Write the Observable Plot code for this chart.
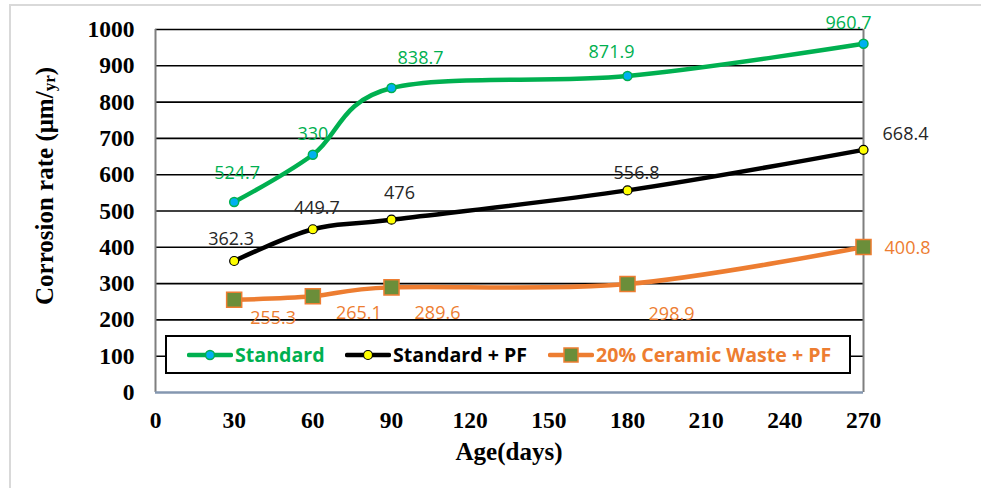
<!DOCTYPE html>
<html><head><meta charset="utf-8">
<script src="https://cdn.jsdelivr.net/npm/d3@7"></script>
<script src="https://cdn.jsdelivr.net/npm/@observablehq/plot@0.6"></script>
<style>
body{margin:0;background:#fff;overflow:hidden}
#wrap{position:relative;width:981px;height:488px;overflow:hidden;background:#fff}
#frame{position:absolute;left:9px;top:4px;width:1100px;height:1100px;border-top:2px solid #d9d9d9;border-left:2px solid #d9d9d9}
#chart{position:absolute;left:0;top:0}
#legend{position:absolute;left:165px;top:335px;width:682px;height:35px;border:2px solid #000;background:#fff;font-family:"Open Sans";font-weight:bold;font-size:19.6px}
.item{position:absolute;top:0;height:35px;display:flex;align-items:center;white-space:nowrap}
.item svg{margin-right:2px}
</style></head>
<body>
<div id="wrap"><div id="frame"></div><div id="chart"></div><div id="legend"></div></div>
<script>
const ages = [30, 60, 90, 180, 270];
const standard = [524.7, 655, 838.7, 871.9, 960.7];
const standardLabels = ["524.7", "330", "838.7", "871.9", "960.7"];
const standardPF = [362.3, 449.7, 476, 556.8, 668.4];
const standardPFLabels = ["362.3", "449.7", "476", "556.8", "668.4"];
const ceramicPF = [255.3, 265.1, 289.6, 298.9, 400.8];
const ceramicPFLabels = ["255.3", "265.1", "289.6", "298.9", "400.8"];
const seriesNames = ["Standard", "Standard + PF", "20% Ceramic Waste + PF"];
const xTicks = [0, 30, 60, 90, 120, 150, 180, 210, 240, 270];
const yTicks = [0, 100, 200, 300, 400, 500, 600, 700, 800, 900, 1000];
const xTitle = "Age(days)";
const yTitleMain = "Corrosion rate (μm/";
const yTitleSub = "yr";
const yTitleEnd = ")";

// layout: label offsets (px) per point
const standardOffsets = [[3,-29],[0,-21],[29,-30],[-16,-24],[-15,-21]];
const pfOffsets = [[-3,-22],[4,-21],[8,-26],[9,-17],[42,-16]];
const ceramicOffsets = [[39,18],[46,17],[46,26],[44,30],[44,1]];

const styles = [
  {line:"#00B050", fill:"#00B0F0", stroke:"#00B050", text:"#00B050", symbol:"circle", r:4.5, sw:1.5},
  {line:"#000000", fill:"#FFFF00", stroke:"#000000", text:"#262626", symbol:"circle", r:4.5, sw:1.2},
  {line:"#ED7D31", fill:"#6B8E3A", stroke:"#ED7D31", text:"#ED7D31", symbol:"square", r:8.5, sw:1.5}
];
const values = [standard, standardPF, ceramicPF];
const labels = [standardLabels, standardPFLabels, ceramicPFLabels];
const offsets = [standardOffsets, pfOffsets, ceramicOffsets];

const seriesRows = values.map((vals, s) => ages.map((a, i) => ({age: a, value: vals[i], label: labels[s][i], series: seriesNames[s]})));

const marks = [
  Plot.ruleY(yTicks.filter(d => d > 0), {y: d => d, stroke: "#000", strokeWidth: 1.6}),
  Plot.ruleX([0], {stroke: "#7f7f7f", strokeWidth: 2}),
  Plot.ruleX([270], {stroke: "#7f7f7f", strokeWidth: 2}),
  Plot.ruleY([0], {stroke: "#8497b0", strokeWidth: 2.5}),
];
seriesRows.forEach((rows, s) => {
  marks.push(Plot.line(rows, {x: "age", y: "value", curve: "cardinal", tension: 0, stroke: styles[s].line, strokeWidth: 4.5, strokeLinecap: "round"}));
});
seriesRows.forEach((rows, s) => {
  marks.push(Plot.dot(rows, {x: "age", y: "value", symbol: styles[s].symbol, r: styles[s].r, fill: styles[s].fill, stroke: styles[s].stroke, strokeWidth: styles[s].sw}));
});
seriesRows.forEach((rows, s) => {
  rows.forEach((row, i) => {
    marks.push(Plot.text([row], {x: "age", y: "value", text: "label", dx: offsets[s][i][0], dy: offsets[s][i][1], fill: styles[s].text, fontSize: 18, fontFamily: "Open Sans", textAnchor: "middle"}));
  });
});
marks.push(Plot.axisY({ticks: yTicks, tickFormat: d => String(d), tickSize: 0, tickPadding: 21, fontSize: 23.5, fontWeight: "bold", fontFamily: "Liberation Serif", label: null, fill: "#000"}));
marks.push(Plot.axisX({ticks: xTicks, tickFormat: d => String(d), tickSize: 0, tickPadding: 19, fontSize: 23.5, fontWeight: "bold", fontFamily: "Liberation Serif", label: null, fill: "#000"}));

const plot = Plot.plot({
  width: 981, height: 488,
  marginLeft: 155, marginRight: 118, marginTop: 29, marginBottom: 96,
  x: {domain: [0, 270]},
  y: {domain: [0, 1000]},
  style: {background: "transparent", color: "#000", overflow: "visible"},
  marks
});
const svg = d3.select(plot);
svg.append("text")
  .attr("x", 509).attr("y", 460)
  .attr("text-anchor", "middle")
  .attr("font-family", "Liberation Serif").attr("font-weight", "bold").attr("font-size", 25)
  .attr("fill", "#000").text(xTitle);
const yt = svg.append("text")
  .attr("transform", "translate(53,186) rotate(-90)")
  .attr("text-anchor", "middle")
  .attr("font-family", "Liberation Serif").attr("font-weight", "bold").attr("font-size", 25)
  .attr("fill", "#000");
yt.append("tspan").text(yTitleMain);
yt.append("tspan").attr("font-size", 17).attr("dy", 2).text(yTitleSub);
yt.append("tspan").attr("dy", -2).text(yTitleEnd);
document.getElementById("chart").appendChild(plot);

// legend
const legendLefts = [20, 178, 381];
const legend = document.getElementById("legend");
seriesNames.forEach((name, s) => {
  const st = styles[s];
  const div = document.createElement("div");
  div.className = "item";
  div.style.left = legendLefts[s] + "px";
  div.style.color = st.text === "#262626" ? "#000" : st.line;
  const marker = st.symbol === "circle"
    ? `<circle cx="23" cy="10" r="${st.r}" fill="${st.fill}" stroke="${st.stroke}" stroke-width="${st.sw}"/>`
    : `<rect x="16" y="3" width="14" height="14" fill="${st.fill}" stroke="${st.stroke}" stroke-width="${st.sw}"/>`;
  div.innerHTML = `<svg width="46" height="20"><line x1="2" x2="44" y1="10" y2="10" stroke="${st.line}" stroke-width="4.5" stroke-linecap="round"/>${marker}</svg><span>${name}</span>`;
  legend.appendChild(div);
});
</script>
</body></html>
